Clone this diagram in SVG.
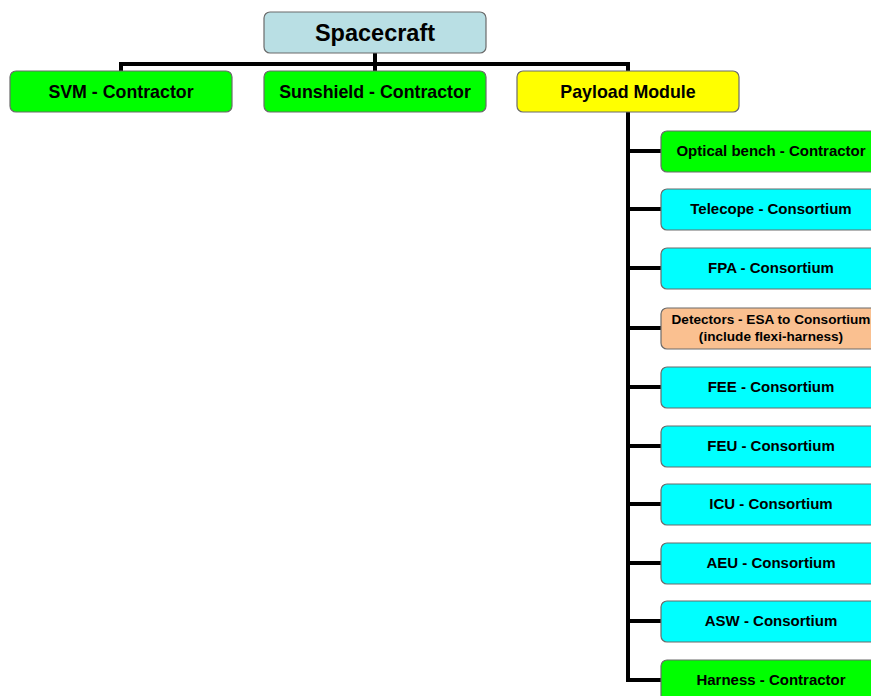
<svg xmlns="http://www.w3.org/2000/svg" width="871" height="696" viewBox="0 0 871 696">
<style>
.box{stroke:#6b6b6b;stroke-width:1.2}
.t{font-family:"Liberation Sans",Arial,sans-serif;font-weight:bold;text-anchor:middle;fill:#000}
.l1{font-size:17.8px}
.l2{font-size:15px}
.c{stroke:#000;stroke-width:4;fill:none}
.g{fill:#00FF00}.cy{fill:#00FFFF}.y{fill:#FFFF00}.p{fill:#FAC090}
</style>
<rect width="871" height="696" fill="#fff"/>
<g id="connectors">
<path class="c" d="M375 53V64M121 64H628M121 62V72M375 62V72M628 62V72"/>
<path class="c" d="M628 112V682"/>
<path class="c" d="M626 151H662M626 209H662M626 268H662M626 328H662M626 387H662M626 446H662M626 504H662M626 563H662M626 621H662M626 680H662"/>
</g>
<g id="spacecraft"><rect class="box" x="264" y="12" width="222" height="41" rx="6" fill="#B9DFE4"/><text class="t" x="375" y="41" font-size="23.5">Spacecraft</text></g>
<g id="svm"><rect class="box g" x="10" y="71" width="222" height="41" rx="6"/><text class="t l1" x="121" y="98">SVM - Contractor</text></g>
<g id="sunshield"><rect class="box g" x="264" y="71" width="222" height="41" rx="6"/><text class="t l1" x="375" y="98">Sunshield - Contractor</text></g>
<g id="payload"><rect class="box y" x="517" y="71" width="222" height="41" rx="6"/><text class="t l1" x="628" y="98">Payload Module</text></g>
<g id="optical"><rect class="box g" x="661" y="131" width="220" height="41" rx="6"/><text class="t l2" x="771" y="156">Optical bench - Contractor</text></g>
<g id="telescope"><rect class="box cy" x="661" y="189" width="220" height="41" rx="6"/><text class="t l2" x="771" y="214">Telecope - Consortium</text></g>
<g id="fpa"><rect class="box cy" x="661" y="248" width="220" height="41" rx="6"/><text class="t l2" x="771" y="273">FPA - Consortium</text></g>
<g id="detectors"><rect class="box p" x="661" y="308" width="220" height="41" rx="6"/><text class="t" x="771" y="324" font-size="13.6">Detectors - ESA to Consortium</text><text class="t" x="771" y="341" font-size="13.6">(include flexi-harness)</text></g>
<g id="fee"><rect class="box cy" x="661" y="367" width="220" height="41" rx="6"/><text class="t l2" x="771" y="392">FEE - Consortium</text></g>
<g id="feu"><rect class="box cy" x="661" y="426" width="220" height="41" rx="6"/><text class="t l2" x="771" y="451">FEU - Consortium</text></g>
<g id="icu"><rect class="box cy" x="661" y="484" width="220" height="41" rx="6"/><text class="t l2" x="771" y="509">ICU - Consortium</text></g>
<g id="aeu"><rect class="box cy" x="661" y="543" width="220" height="41" rx="6"/><text class="t l2" x="771" y="568">AEU - Consortium</text></g>
<g id="asw"><rect class="box cy" x="661" y="601" width="220" height="41" rx="6"/><text class="t l2" x="771" y="626">ASW - Consortium</text></g>
<g id="harness"><rect class="box g" x="661" y="660" width="220" height="41" rx="6"/><text class="t l2" x="771" y="685">Harness - Contractor</text></g>
</svg>
